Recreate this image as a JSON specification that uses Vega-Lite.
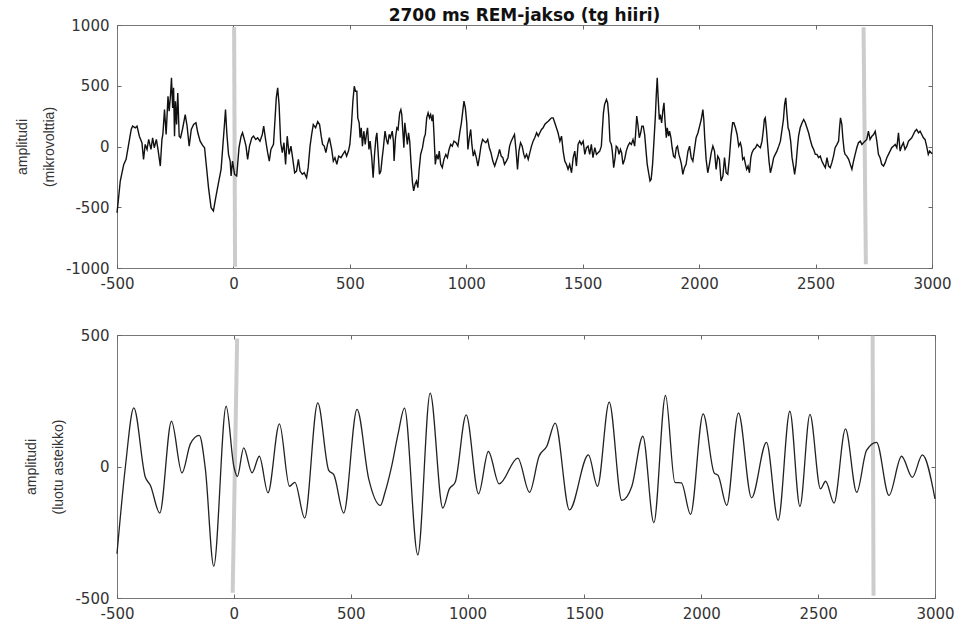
{
  "$schema": "https://vega.github.io/schema/vega-lite/v6.json",
  "background": "white",
  "padding": {"left": 14, "top": 6, "right": 2, "bottom": 3},
  "spacing": 35,
  "config": {
    "view": {"stroke": "#777777", "strokeWidth": 1},
    "axis": {
      "domain": false,
      "grid": false,
      "tickColor": "#666666",
      "tickSize": -4,
      "labelFont": "DejaVu Sans",
      "labelFontSize": 15,
      "labelColor": "#333333",
      "labelPadding": 12,
      "titleFont": "Liberation Sans",
      "titleFontSize": 14,
      "titleFontWeight": "normal",
      "titleColor": "#333333",
      "titleLineHeight": 27,
      "titlePadding": 9
    },
    "title": {"font": "DejaVu Sans", "fontSize": 17, "fontWeight": "bold", "color": "#111"}
  },
  "datasets": {
    "eeg": [
      {"t": -500, "uv": -545}, {"t": -496, "uv": -475}, {"t": -486, "uv": -284}, {"t": -471, "uv": -147},
      {"t": -461, "uv": -106}, {"t": -450, "uv": 17}, {"t": -439, "uv": 140}, {"t": -433, "uv": 168},
      {"t": -421, "uv": 154}, {"t": -414, "uv": 168}, {"t": -404, "uv": 85}, {"t": -393, "uv": 31},
      {"t": -386, "uv": -106}, {"t": -379, "uv": 17}, {"t": -371, "uv": -24}, {"t": -364, "uv": 58},
      {"t": -354, "uv": -24}, {"t": -347, "uv": 72}, {"t": -340, "uv": -10}, {"t": -331, "uv": 58},
      {"t": -324, "uv": -24}, {"t": -314, "uv": -161}, {"t": -307, "uv": 58}, {"t": -303, "uv": 99},
      {"t": -296, "uv": 304}, {"t": -289, "uv": 99}, {"t": -281, "uv": 414}, {"t": -276, "uv": 291},
      {"t": -270, "uv": 428}, {"t": -266, "uv": 565}, {"t": -261, "uv": 318}, {"t": -257, "uv": 483},
      {"t": -253, "uv": 85}, {"t": -249, "uv": 373}, {"t": -244, "uv": 181}, {"t": -239, "uv": 441},
      {"t": -233, "uv": 85}, {"t": -227, "uv": 72}, {"t": -219, "uv": 140}, {"t": -207, "uv": 263},
      {"t": -199, "uv": 168}, {"t": -190, "uv": 3}, {"t": -181, "uv": 140}, {"t": -171, "uv": 181},
      {"t": -161, "uv": 195}, {"t": -153, "uv": 113}, {"t": -143, "uv": 44}, {"t": -133, "uv": 11},
      {"t": -124, "uv": -10}, {"t": -114, "uv": -202}, {"t": -107, "uv": -339}, {"t": -96, "uv": -503},
      {"t": -86, "uv": -530}, {"t": -76, "uv": -421}, {"t": -64, "uv": -298}, {"t": -53, "uv": -188},
      {"t": -46, "uv": -10}, {"t": -38, "uv": 195}, {"t": -34, "uv": 304}, {"t": -28, "uv": 99},
      {"t": -21, "uv": -65}, {"t": -14, "uv": -120}, {"t": -10, "uv": -243}, {"t": -4, "uv": -120},
      {"t": 5, "uv": -230}, {"t": 14, "uv": -243}, {"t": 24, "uv": -10}, {"t": 33, "uv": 85},
      {"t": 39, "uv": 113}, {"t": 47, "uv": 58}, {"t": 54, "uv": 3}, {"t": 61, "uv": -106},
      {"t": 69, "uv": 3}, {"t": 79, "uv": 72}, {"t": 86, "uv": 85}, {"t": 96, "uv": 58},
      {"t": 104, "uv": 72}, {"t": 114, "uv": 44}, {"t": 124, "uv": 99}, {"t": 130, "uv": 168},
      {"t": 139, "uv": 44}, {"t": 147, "uv": -51}, {"t": 154, "uv": -120}, {"t": 161, "uv": -24},
      {"t": 172, "uv": 17}, {"t": 179, "uv": 236}, {"t": 184, "uv": 400}, {"t": 190, "uv": 483},
      {"t": 196, "uv": 346}, {"t": 203, "uv": 31}, {"t": 210, "uv": -51}, {"t": 217, "uv": 31},
      {"t": 224, "uv": -147}, {"t": 231, "uv": 85}, {"t": 239, "uv": -65}, {"t": 247, "uv": 3},
      {"t": 254, "uv": -92}, {"t": 263, "uv": -216}, {"t": 271, "uv": -202}, {"t": 279, "uv": -106},
      {"t": 286, "uv": -202}, {"t": 296, "uv": -229}, {"t": 304, "uv": -216}, {"t": 314, "uv": -257},
      {"t": 321, "uv": -174}, {"t": 329, "uv": 3}, {"t": 336, "uv": 99}, {"t": 343, "uv": 181},
      {"t": 353, "uv": 154}, {"t": 362, "uv": 205}, {"t": 370, "uv": 181}, {"t": 377, "uv": 85},
      {"t": 383, "uv": 17}, {"t": 390, "uv": 3}, {"t": 397, "uv": -51}, {"t": 404, "uv": 17},
      {"t": 412, "uv": 72}, {"t": 422, "uv": -24}, {"t": 429, "uv": -120}, {"t": 436, "uv": -92},
      {"t": 444, "uv": -147}, {"t": 452, "uv": -79}, {"t": 462, "uv": -92}, {"t": 470, "uv": -65},
      {"t": 479, "uv": -38}, {"t": 486, "uv": -79}, {"t": 494, "uv": -38}, {"t": 500, "uv": 17},
      {"t": 507, "uv": 181}, {"t": 513, "uv": 373}, {"t": 519, "uv": 496}, {"t": 524, "uv": 455},
      {"t": 530, "uv": 455}, {"t": 534, "uv": 236}, {"t": 540, "uv": 195}, {"t": 544, "uv": 72},
      {"t": 549, "uv": 154}, {"t": 554, "uv": 3}, {"t": 560, "uv": 126}, {"t": 566, "uv": 17},
      {"t": 572, "uv": 113}, {"t": 576, "uv": 154}, {"t": 582, "uv": -24}, {"t": 587, "uv": 44},
      {"t": 594, "uv": -92}, {"t": 600, "uv": -257}, {"t": 606, "uv": -65}, {"t": 612, "uv": 72},
      {"t": 616, "uv": 113}, {"t": 622, "uv": -65}, {"t": 627, "uv": -229}, {"t": 633, "uv": -202},
      {"t": 639, "uv": -92}, {"t": 644, "uv": -10}, {"t": 651, "uv": 126}, {"t": 657, "uv": 58},
      {"t": 663, "uv": 17}, {"t": 669, "uv": 99}, {"t": 674, "uv": 72}, {"t": 682, "uv": 126},
      {"t": 687, "uv": 44}, {"t": 690, "uv": -120}, {"t": 696, "uv": 72}, {"t": 702, "uv": 154},
      {"t": 707, "uv": 140}, {"t": 714, "uv": 277}, {"t": 719, "uv": 304}, {"t": 723, "uv": 263},
      {"t": 727, "uv": 140}, {"t": 732, "uv": -10}, {"t": 736, "uv": 195}, {"t": 742, "uv": 99},
      {"t": 747, "uv": 17}, {"t": 752, "uv": 113}, {"t": 757, "uv": 44}, {"t": 763, "uv": -147},
      {"t": 769, "uv": -298}, {"t": 774, "uv": -366}, {"t": 780, "uv": -311}, {"t": 786, "uv": -284},
      {"t": 792, "uv": -339}, {"t": 797, "uv": -202}, {"t": 804, "uv": -65}, {"t": 812, "uv": -10},
      {"t": 819, "uv": 72}, {"t": 824, "uv": 99}, {"t": 830, "uv": 236}, {"t": 836, "uv": 277},
      {"t": 842, "uv": 236}, {"t": 847, "uv": 263}, {"t": 853, "uv": 208}, {"t": 857, "uv": 263},
      {"t": 862, "uv": 72}, {"t": 867, "uv": -147}, {"t": 873, "uv": -65}, {"t": 879, "uv": -106},
      {"t": 884, "uv": -38}, {"t": 890, "uv": -147}, {"t": 897, "uv": -174}, {"t": 904, "uv": -106},
      {"t": 912, "uv": -65}, {"t": 919, "uv": -92}, {"t": 926, "uv": -24}, {"t": 933, "uv": 17},
      {"t": 940, "uv": 3}, {"t": 947, "uv": 44}, {"t": 956, "uv": 31}, {"t": 964, "uv": 3},
      {"t": 973, "uv": 126}, {"t": 979, "uv": 195}, {"t": 984, "uv": 277}, {"t": 990, "uv": 373},
      {"t": 996, "uv": 318}, {"t": 1002, "uv": 195}, {"t": 1007, "uv": -24}, {"t": 1013, "uv": 72},
      {"t": 1019, "uv": 140}, {"t": 1024, "uv": 17}, {"t": 1030, "uv": -79}, {"t": 1036, "uv": -38},
      {"t": 1043, "uv": -92}, {"t": 1050, "uv": -161}, {"t": 1056, "uv": -92}, {"t": 1063, "uv": 3},
      {"t": 1070, "uv": 58}, {"t": 1077, "uv": 44}, {"t": 1084, "uv": 31}, {"t": 1092, "uv": 58},
      {"t": 1099, "uv": -10}, {"t": 1106, "uv": -51}, {"t": 1114, "uv": -120}, {"t": 1122, "uv": -161},
      {"t": 1129, "uv": -120}, {"t": 1136, "uv": -79}, {"t": 1143, "uv": -24}, {"t": 1150, "uv": -79},
      {"t": 1157, "uv": -92}, {"t": 1164, "uv": -147}, {"t": 1172, "uv": -120}, {"t": 1179, "uv": -92},
      {"t": 1186, "uv": 3}, {"t": 1193, "uv": 44}, {"t": 1200, "uv": 72}, {"t": 1207, "uv": 99},
      {"t": 1214, "uv": -38}, {"t": 1220, "uv": -188}, {"t": 1226, "uv": -38}, {"t": 1233, "uv": 31},
      {"t": 1240, "uv": 3}, {"t": 1247, "uv": -65}, {"t": 1252, "uv": -92}, {"t": 1259, "uv": -65},
      {"t": 1266, "uv": -106}, {"t": 1273, "uv": -51}, {"t": 1280, "uv": 3}, {"t": 1287, "uv": 44},
      {"t": 1294, "uv": 72}, {"t": 1302, "uv": 113}, {"t": 1309, "uv": 85}, {"t": 1316, "uv": 113},
      {"t": 1323, "uv": 140}, {"t": 1330, "uv": 154}, {"t": 1337, "uv": 181}, {"t": 1344, "uv": 195},
      {"t": 1352, "uv": 208}, {"t": 1359, "uv": 222}, {"t": 1366, "uv": 236}, {"t": 1373, "uv": 236},
      {"t": 1380, "uv": 195}, {"t": 1387, "uv": 154}, {"t": 1394, "uv": 113}, {"t": 1402, "uv": 44},
      {"t": 1409, "uv": 85}, {"t": 1416, "uv": -38}, {"t": 1423, "uv": -120}, {"t": 1430, "uv": -147},
      {"t": 1437, "uv": -188}, {"t": 1444, "uv": -147}, {"t": 1452, "uv": -216}, {"t": 1459, "uv": -92},
      {"t": 1466, "uv": -38}, {"t": 1473, "uv": -161}, {"t": 1480, "uv": 17}, {"t": 1487, "uv": 44},
      {"t": 1494, "uv": 17}, {"t": 1502, "uv": 44}, {"t": 1509, "uv": -65}, {"t": 1516, "uv": -10},
      {"t": 1523, "uv": 3}, {"t": 1530, "uv": -65}, {"t": 1537, "uv": 17}, {"t": 1544, "uv": -92},
      {"t": 1552, "uv": -10}, {"t": 1559, "uv": -65}, {"t": 1566, "uv": -51}, {"t": 1573, "uv": -38},
      {"t": 1580, "uv": 3}, {"t": 1584, "uv": 126}, {"t": 1589, "uv": 277}, {"t": 1594, "uv": 346},
      {"t": 1602, "uv": 387}, {"t": 1607, "uv": 359}, {"t": 1612, "uv": 250}, {"t": 1617, "uv": 44},
      {"t": 1623, "uv": 17}, {"t": 1627, "uv": -38}, {"t": 1633, "uv": -174}, {"t": 1639, "uv": -92},
      {"t": 1644, "uv": 3}, {"t": 1650, "uv": -10}, {"t": 1656, "uv": -65}, {"t": 1662, "uv": -24},
      {"t": 1667, "uv": -51}, {"t": 1673, "uv": -147}, {"t": 1680, "uv": -106}, {"t": 1687, "uv": -38},
      {"t": 1694, "uv": 3}, {"t": 1702, "uv": 31}, {"t": 1709, "uv": 17}, {"t": 1716, "uv": 58},
      {"t": 1723, "uv": 3}, {"t": 1727, "uv": 99}, {"t": 1732, "uv": 250}, {"t": 1737, "uv": 181},
      {"t": 1743, "uv": 72}, {"t": 1749, "uv": 113}, {"t": 1754, "uv": 168}, {"t": 1760, "uv": 168},
      {"t": 1766, "uv": 99}, {"t": 1772, "uv": -38}, {"t": 1777, "uv": -147}, {"t": 1783, "uv": -216},
      {"t": 1789, "uv": -284}, {"t": 1794, "uv": -270}, {"t": 1800, "uv": -147}, {"t": 1806, "uv": 44},
      {"t": 1812, "uv": 250}, {"t": 1816, "uv": 428}, {"t": 1820, "uv": 565}, {"t": 1824, "uv": 400},
      {"t": 1829, "uv": 222}, {"t": 1833, "uv": 263}, {"t": 1839, "uv": 195}, {"t": 1844, "uv": 291},
      {"t": 1849, "uv": 359}, {"t": 1853, "uv": 222}, {"t": 1859, "uv": 72}, {"t": 1863, "uv": 154},
      {"t": 1869, "uv": 85}, {"t": 1873, "uv": 126}, {"t": 1879, "uv": 72}, {"t": 1884, "uv": -10},
      {"t": 1890, "uv": -79}, {"t": 1896, "uv": -92}, {"t": 1902, "uv": -10}, {"t": 1907, "uv": 3},
      {"t": 1913, "uv": -65}, {"t": 1919, "uv": -106}, {"t": 1924, "uv": -147}, {"t": 1930, "uv": -229},
      {"t": 1937, "uv": -174}, {"t": 1944, "uv": -147}, {"t": 1952, "uv": -38}, {"t": 1959, "uv": 3},
      {"t": 1966, "uv": -92}, {"t": 1973, "uv": -120}, {"t": 1980, "uv": -24}, {"t": 1987, "uv": 72},
      {"t": 1995, "uv": 113}, {"t": 2002, "uv": 168}, {"t": 2009, "uv": 222}, {"t": 2016, "uv": 304},
      {"t": 2020, "uv": 222}, {"t": 2024, "uv": 72}, {"t": 2030, "uv": -106}, {"t": 2037, "uv": -216},
      {"t": 2044, "uv": -147}, {"t": 2052, "uv": -51}, {"t": 2059, "uv": 3}, {"t": 2066, "uv": -38},
      {"t": 2073, "uv": -188}, {"t": 2080, "uv": -79}, {"t": 2087, "uv": -106}, {"t": 2094, "uv": -284},
      {"t": 2102, "uv": -243}, {"t": 2109, "uv": -92}, {"t": 2116, "uv": -216}, {"t": 2123, "uv": -229},
      {"t": 2130, "uv": -92}, {"t": 2137, "uv": 85}, {"t": 2144, "uv": 195}, {"t": 2149, "uv": 195},
      {"t": 2156, "uv": 154}, {"t": 2163, "uv": 99}, {"t": 2170, "uv": 3}, {"t": 2177, "uv": 31},
      {"t": 2182, "uv": -10}, {"t": 2187, "uv": -106}, {"t": 2193, "uv": -92}, {"t": 2199, "uv": -147},
      {"t": 2204, "uv": -188}, {"t": 2210, "uv": -161}, {"t": 2216, "uv": -216}, {"t": 2222, "uv": -92},
      {"t": 2227, "uv": -51}, {"t": 2234, "uv": -24}, {"t": 2242, "uv": -10}, {"t": 2249, "uv": 17},
      {"t": 2256, "uv": 3}, {"t": 2263, "uv": -10}, {"t": 2270, "uv": 44}, {"t": 2276, "uv": 140},
      {"t": 2280, "uv": 222}, {"t": 2284, "uv": 236}, {"t": 2289, "uv": 140}, {"t": 2294, "uv": 17},
      {"t": 2300, "uv": -120}, {"t": 2306, "uv": -216}, {"t": 2313, "uv": -161}, {"t": 2320, "uv": -92},
      {"t": 2327, "uv": -65}, {"t": 2334, "uv": -38}, {"t": 2342, "uv": 3}, {"t": 2349, "uv": 44},
      {"t": 2356, "uv": 140}, {"t": 2362, "uv": 222}, {"t": 2367, "uv": 346}, {"t": 2372, "uv": 400},
      {"t": 2376, "uv": 291}, {"t": 2382, "uv": 154}, {"t": 2387, "uv": 126}, {"t": 2393, "uv": 44},
      {"t": 2399, "uv": -92}, {"t": 2406, "uv": -174}, {"t": 2410, "uv": -229}, {"t": 2416, "uv": -147},
      {"t": 2422, "uv": -10}, {"t": 2427, "uv": 85}, {"t": 2434, "uv": 154}, {"t": 2442, "uv": 195},
      {"t": 2449, "uv": 222}, {"t": 2456, "uv": 195}, {"t": 2463, "uv": 154}, {"t": 2470, "uv": 113},
      {"t": 2477, "uv": 58}, {"t": 2485, "uv": 3}, {"t": 2492, "uv": -24}, {"t": 2499, "uv": -65},
      {"t": 2506, "uv": -65}, {"t": 2513, "uv": -92}, {"t": 2520, "uv": -79}, {"t": 2527, "uv": -120},
      {"t": 2534, "uv": -147}, {"t": 2542, "uv": -174}, {"t": 2549, "uv": -92}, {"t": 2556, "uv": -161},
      {"t": 2563, "uv": -174}, {"t": 2570, "uv": -133}, {"t": 2577, "uv": -79}, {"t": 2584, "uv": -10},
      {"t": 2592, "uv": 17}, {"t": 2599, "uv": 44}, {"t": 2603, "uv": 154}, {"t": 2607, "uv": 236},
      {"t": 2613, "uv": 181}, {"t": 2617, "uv": 72}, {"t": 2623, "uv": -38}, {"t": 2627, "uv": -65},
      {"t": 2634, "uv": -79}, {"t": 2642, "uv": -106}, {"t": 2649, "uv": -147}, {"t": 2656, "uv": -188},
      {"t": 2663, "uv": -120}, {"t": 2670, "uv": -65}, {"t": 2677, "uv": -10}, {"t": 2684, "uv": 31},
      {"t": 2692, "uv": 44}, {"t": 2699, "uv": 17}, {"t": 2710, "uv": 40}, {"t": 2720, "uv": 58},
      {"t": 2727, "uv": 126}, {"t": 2734, "uv": 58}, {"t": 2742, "uv": 85}, {"t": 2749, "uv": 99},
      {"t": 2756, "uv": 126}, {"t": 2763, "uv": 44}, {"t": 2770, "uv": -65}, {"t": 2777, "uv": -92},
      {"t": 2784, "uv": -147}, {"t": 2792, "uv": -161}, {"t": 2799, "uv": -133}, {"t": 2806, "uv": -92},
      {"t": 2813, "uv": -65}, {"t": 2820, "uv": -38}, {"t": 2827, "uv": -10}, {"t": 2834, "uv": 3},
      {"t": 2842, "uv": 17}, {"t": 2849, "uv": -10}, {"t": 2856, "uv": 113}, {"t": 2863, "uv": -38},
      {"t": 2870, "uv": 3}, {"t": 2877, "uv": 31}, {"t": 2884, "uv": -24}, {"t": 2892, "uv": 3},
      {"t": 2899, "uv": 44}, {"t": 2906, "uv": 58}, {"t": 2913, "uv": 72}, {"t": 2920, "uv": 99},
      {"t": 2927, "uv": 126}, {"t": 2934, "uv": 140}, {"t": 2942, "uv": 113}, {"t": 2949, "uv": 126},
      {"t": 2956, "uv": 99}, {"t": 2963, "uv": 72}, {"t": 2970, "uv": 58}, {"t": 2977, "uv": 3},
      {"t": 2984, "uv": -65}, {"t": 2990, "uv": -38}, {"t": 3000, "uv": -60}
    ],
    "filtered": [
      {"t": -500, "a": -332}, {"t": -464, "a": 0}, {"t": -428, "a": 223}, {"t": -379, "a": -40},
      {"t": -357, "a": -72}, {"t": -317, "a": -177}, {"t": -267, "a": 172}, {"t": -222, "a": -24},
      {"t": -186, "a": 86}, {"t": -148, "a": 118}, {"t": -122, "a": -9}, {"t": -86, "a": -379},
      {"t": -33, "a": 229}, {"t": 0, "a": 0}, {"t": 15, "a": -38}, {"t": 42, "a": 71},
      {"t": 78, "a": -24}, {"t": 109, "a": 39}, {"t": 146, "a": -100}, {"t": 195, "a": 162},
      {"t": 238, "a": -75}, {"t": 261, "a": -60}, {"t": 303, "a": -196}, {"t": 359, "a": 242},
      {"t": 406, "a": -15}, {"t": 428, "a": -32}, {"t": 470, "a": -177}, {"t": 527, "a": 217},
      {"t": 577, "a": -47}, {"t": 627, "a": -148}, {"t": 647, "a": -98}, {"t": 676, "a": 4},
      {"t": 704, "a": 130}, {"t": 730, "a": 222}, {"t": 787, "a": -336}, {"t": 840, "a": 279},
      {"t": 894, "a": -158}, {"t": 922, "a": -85}, {"t": 947, "a": -60}, {"t": 994, "a": 196},
      {"t": 1047, "a": -104}, {"t": 1089, "a": 57}, {"t": 1135, "a": -66}, {"t": 1215, "a": 32},
      {"t": 1265, "a": -98}, {"t": 1306, "a": 39}, {"t": 1339, "a": 77}, {"t": 1375, "a": 165},
      {"t": 1436, "a": -165}, {"t": 1517, "a": 44}, {"t": 1556, "a": -75}, {"t": 1606, "a": 245},
      {"t": 1660, "a": -129}, {"t": 1703, "a": -75}, {"t": 1750, "a": 115}, {"t": 1797, "a": -214},
      {"t": 1847, "a": 270}, {"t": 1887, "a": -60}, {"t": 1915, "a": -62}, {"t": 1954, "a": -182},
      {"t": 2008, "a": 200}, {"t": 2055, "a": -24}, {"t": 2072, "a": -34}, {"t": 2109, "a": -148},
      {"t": 2159, "a": 204}, {"t": 2215, "a": -119}, {"t": 2279, "a": 92}, {"t": 2329, "a": -205},
      {"t": 2379, "a": 210}, {"t": 2422, "a": -152}, {"t": 2465, "a": 198}, {"t": 2510, "a": -85},
      {"t": 2532, "a": -56}, {"t": 2568, "a": -139}, {"t": 2617, "a": 143}, {"t": 2665, "a": -98},
      {"t": 2707, "a": 61}, {"t": 2750, "a": 92}, {"t": 2803, "a": -110}, {"t": 2857, "a": 39},
      {"t": 2903, "a": -41}, {"t": 2946, "a": 44}, {"t": 3000, "a": -123}
    ],
    "markersTop": [
      {"t0": 3, "t1": 7, "v0": 981, "v1": -990},
      {"t0": 2706, "t1": 2716, "v0": 981, "v1": -969}
    ],
    "markersBottom": [
      {"t0": 14, "t1": -5, "v0": 487, "v1": -480},
      {"t0": 2733, "t1": 2737, "v0": 497, "v1": -491}
    ]
  },
  "vconcat": [
    {
      "title": {"text": "2700 ms REM-jakso (tg hiiri)", "offset": -7},
      "width": 815,
      "height": 243,
      "resolve": {"axis": {"x": "independent", "y": "independent"}},
      "layer": [
        {
          "data": {"name": "markersTop"},
          "mark": {"type": "rule", "color": "#cccccc", "strokeWidth": 4},
          "encoding": {
            "x": {"field": "t0", "type": "quantitative", "scale": {"domain": [-500, 3000], "nice": false},
                  "axis": {"orient": "bottom", "title": null, "values": [-500, 0, 500, 1000, 1500, 2000, 2500, 3000], "labelFlush": false,
                           "labelExpr": "datum.value < 0 ? '-' + abs(datum.value) : '' + datum.value"}},
            "x2": {"field": "t1"},
            "y": {"field": "v0", "type": "quantitative", "scale": {"domain": [-1000, 1000], "nice": false},
                  "axis": {"orient": "left", "title": ["amplitudi", "(mikrovolttia)"], "values": [-1000, -500, 0, 500, 1000],
                           "labelExpr": "datum.value < 0 ? '-' + abs(datum.value) : '' + datum.value"}},
            "y2": {"field": "v1"}
          }
        },
        {
          "data": {"name": "eeg"},
          "mark": {"type": "line", "color": "#111111", "strokeWidth": 1.4},
          "encoding": {
            "x": {"field": "t", "type": "quantitative",
                  "axis": {"orient": "top", "title": null, "labels": false, "values": [-500, 0, 500, 1000, 1500, 2000, 2500, 3000]}},
            "y": {"field": "uv", "type": "quantitative",
                  "axis": {"orient": "right", "title": null, "labels": false, "values": [-1000, -500, 0, 500, 1000]}}
          }
        }
      ]
    },
    {
      "width": 818,
      "height": 263,
      "resolve": {"axis": {"x": "independent", "y": "independent"}},
      "layer": [
        {
          "data": {"name": "markersBottom"},
          "mark": {"type": "rule", "color": "#cccccc", "strokeWidth": 4},
          "encoding": {
            "x": {"field": "t0", "type": "quantitative", "scale": {"domain": [-500, 3000], "nice": false},
                  "axis": {"orient": "bottom", "title": null, "values": [-500, 0, 500, 1000, 1500, 2000, 2500, 3000], "labelFlush": false,
                           "labelExpr": "datum.value < 0 ? '-' + abs(datum.value) : '' + datum.value"}},
            "x2": {"field": "t1"},
            "y": {"field": "v0", "type": "quantitative", "scale": {"domain": [-500, 500], "nice": false},
                  "axis": {"orient": "left", "title": ["amplitudi", "(luotu asteikko)"], "values": [-500, 0, 500],
                           "labelExpr": "datum.value < 0 ? '-' + abs(datum.value) : '' + datum.value"}},
            "y2": {"field": "v1"}
          }
        },
        {
          "data": {"name": "filtered"},
          "mark": {"type": "line", "color": "#222222", "strokeWidth": 1.3, "interpolate": "monotone"},
          "encoding": {
            "x": {"field": "t", "type": "quantitative",
                  "axis": {"orient": "top", "title": null, "labels": false, "values": [-500, 0, 500, 1000, 1500, 2000, 2500, 3000]}},
            "y": {"field": "a", "type": "quantitative",
                  "axis": {"orient": "right", "title": null, "labels": false, "values": [-500, 0, 500]}}
          }
        }
      ]
    }
  ]
}
